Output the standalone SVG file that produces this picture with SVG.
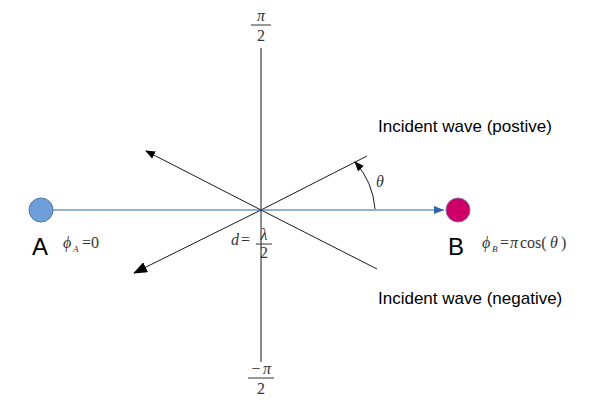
<svg xmlns="http://www.w3.org/2000/svg" width="592" height="414" viewBox="0 0 592 414">
<defs>
<style>
.ln{stroke:#000;stroke-width:0.9;fill:none}
.sans{font-family:"Liberation Sans",Arial,sans-serif;fill:#000}
.math{font-family:"Liberation Serif","Times New Roman",serif;font-style:italic;fill:#333}
.num{font-family:"Liberation Serif","Times New Roman",serif;fill:#333}
</style>
<marker id="ah" markerWidth="10" markerHeight="8" refX="9" refY="4" orient="auto" markerUnits="userSpaceOnUse"><path d="M0,0 L10,4 L0,8 z" fill="#000"/></marker>
<marker id="ahBig" markerWidth="14" markerHeight="11" refX="13" refY="5.5" orient="auto" markerUnits="userSpaceOnUse"><path d="M0,0 L14,5.5 L0,11 z" fill="#000"/></marker>
<marker id="ahBlue" markerWidth="10" markerHeight="8" refX="10" refY="4" orient="auto" markerUnits="userSpaceOnUse"><path d="M0,0 L10,4 L0,8 z" fill="#2e64a8"/></marker>
</defs>
<rect width="592" height="414" fill="#fff"/>
<g id="connectors">
<line class="ln" x1="261" y1="48" x2="261" y2="362"/>
<line class="ln" x1="261" y1="210" x2="367" y2="156"/>
<line class="ln" x1="261" y1="210" x2="377" y2="269"/>
<line class="ln" x1="261" y1="210" x2="146" y2="151" marker-end="url(#ah)"/>
<line class="ln" x1="261" y1="210" x2="134" y2="273" marker-end="url(#ahBig)"/>
<line x1="53" y1="210" x2="444" y2="210" stroke="#2e64a8" stroke-width="1.2" marker-end="url(#ahBlue)"/>
<path class="ln" d="M375,209 Q373,182 355,162" marker-end="url(#ah)"/>
</g>
<g id="nodeA">
<circle cx="41" cy="210" r="12" fill="#6f9fd8" stroke="#4a78b0" stroke-width="1"/>
<text class="sans" x="32" y="255" font-size="24">A</text>
<text class="math" x="63" y="248" font-size="16">ϕ</text>
<text class="math" x="73" y="252" font-size="9">A</text>
<text class="num" x="82" y="248" font-size="16">=0</text>
</g>
<g id="nodeB">
<circle cx="458" cy="210" r="12" fill="#cc0066" stroke="#8a6aa8" stroke-width="1"/>
<text class="sans" x="448" y="255" font-size="24">B</text>
<text class="math" x="482" y="248" font-size="16">ϕ</text>
<text class="math" x="492" y="252" font-size="9">B</text>
<text class="num" x="500" y="248" font-size="16">=</text>
<text class="math" x="510" y="248" font-size="16">π</text>
<text class="num" x="520" y="248" font-size="16">cos(</text>
<text class="math" x="550" y="248" font-size="16">θ</text>
<text class="num" x="561" y="248" font-size="16">)</text>
</g>
<g id="labels">
<text class="math" x="261" y="21" font-size="16" text-anchor="middle">π</text>
<line x1="251" y1="25" x2="271" y2="25" stroke="#333" stroke-width="1"/>
<text class="num" x="261" y="41" font-size="16" text-anchor="middle">2</text>
<text class="num" x="256" y="374" font-size="16" text-anchor="middle">−</text>
<text class="math" x="267" y="374" font-size="16" text-anchor="middle">π</text>
<line x1="248" y1="378" x2="274" y2="378" stroke="#333" stroke-width="1"/>
<text class="num" x="261" y="394" font-size="16" text-anchor="middle">2</text>
<text class="math" x="231" y="245" font-size="16">d</text>
<text class="num" x="241" y="245" font-size="16">=</text>
<text class="math" x="264" y="240" font-size="16" text-anchor="middle">λ</text>
<line x1="256" y1="244" x2="272" y2="244" stroke="#333" stroke-width="1"/>
<text class="num" x="264" y="258" font-size="16" text-anchor="middle">2</text>
<text class="math" x="376" y="187" font-size="16">θ</text>
<text class="sans" x="378" y="132" font-size="17">Incident wave (postive)</text>
<text class="sans" x="378" y="304" font-size="17">Incident wave (negative)</text>
</g>
</svg>
